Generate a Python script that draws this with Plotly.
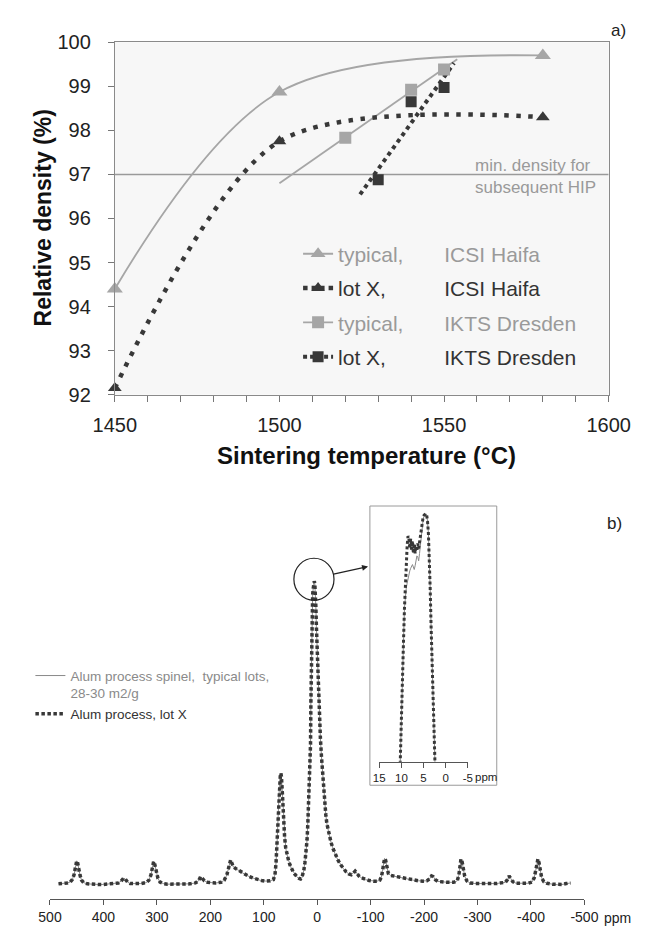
import numpy as np
import plotly.graph_objects as go

W, H = 654, 930
def px(x):
    return x / W
def py(y):
    return 1 - y / H

FONT = "Liberation Sans, Arial, sans-serif"
GRAY = "#a6a6a6"
DARK = "#383838"

# ---------------- panel a) data ----------------
temp_icsi = [1450, 1500, 1580]
icsi_typical = [94.4, 98.87, 99.7]
icsi_lotx = [92.15, 97.75, 98.3]
temp_ikts_typical = [1520, 1540, 1550]
ikts_typical = [97.83, 98.92, 99.38]
temp_ikts_lotx = [1530, 1540, 1550]
ikts_lotx = [96.88, 98.65, 98.97]
trend_span_typical = [1500, 1554]
trend_span_lotx = [1524.5, 1553]
hip_min_density = 97
temp_range = [1450, 1600]
temp_ticks = [1450, 1500, 1550, 1600]
density_ticks = [92, 93, 94, 95, 96, 97, 98, 99, 100]

# ---------------- panel b) data ----------------
spec_ppm = [484, 475, 468, 462, 458, 455, 452, 450, 448.5, 447, 444, 441, 437, 430, 420, 410, 400, 390, 380,
            372, 367, 362, 359, 355, 350, 340, 330, 320, 315, 311, 308, 306, 304, 301, 298, 294, 288, 280,
            265, 250, 238, 228, 222, 218, 215, 211, 205, 198, 190, 180, 174, 169, 165, 162, 160, 157, 152,
            146, 140, 134, 127, 120, 112, 104, 96, 88, 82, 79, 77, 75, 73.5, 72, 70.5, 69, 68, 67, 65.5, 64,
            62.5, 61, 59, 57, 54, 51, 48, 45, 42, 39, 36, 33, 31, 29, 27, 25, 23, 21, 19, 17.5, 16, 14.5,
            13.5, 12.5, 11.8, 11, 10.3, 9.5, 8.5, 7.5, 6.5, 5.5, 4.5, 3.5, 2.5, 1.5, 0, -2, -4, -6, -8, -10,
            -12, -14, -16, -18, -20, -23, -26, -30, -34, -39, -44, -49, -54, -59, -64, -68, -71, -74, -78,
            -83, -90, -97, -105, -112, -117, -120, -122, -124, -126, -128, -130, -133, -137, -142, -150,
            -160, -170, -180, -190, -198, -205, -210, -214, -217, -221, -226, -235, -245, -255, -262, -265,
            -267, -269, -271, -273, -276, -280, -286, -295, -305, -320, -335, -345, -352, -356, -359, -362,
            -366, -372, -382, -395, -402, -406, -409, -411, -413, -415, -417, -420, -424, -430, -440, -450,
            -458, -466, -474]
spec_int = [0.0, 0.1, 0.3, 0.6, 1.5, 3.0, 5.5, 7.6, 7.2, 5.5, 3.0, 1.2, 0.4, 0.0, -0.2, -0.2, -0.2, -0.1, 0.0,
            0.3, 0.9, 1.9, 1.6, 0.6, 0.1, 0.0, 0.1, 0.4, 1.2, 3.0, 6.0, 7.4, 6.5, 4.0, 1.8, 0.6, 0.1, -0.1,
            -0.1, -0.1, 0.0, 0.3, 1.0, 2.4, 1.9, 1.0, 0.5, 0.3, 0.3, 0.5, 1.2, 3.0, 6.0, 7.9, 7.0, 5.6, 5.0,
            4.3, 3.6, 3.0, 2.4, 1.9, 1.4, 1.1, 0.9, 1.0, 1.4, 3.0, 7.0, 14.0, 22.0, 29.0, 33.5, 36.0, 36.6,
            35.5, 31.0, 25.0, 19.5, 15.5, 12.0, 10.0, 8.0, 6.3, 5.0, 4.0, 3.2, 2.5, 2.0, 1.7, 1.6, 1.9, 2.8,
            4.5, 7.0, 10.0, 14.5, 20.0, 26.0, 34.0, 40.0, 46.0, 60.0, 72.0, 82.0, 90.0, 95.5, 97.5, 99.2,
            100.0, 99.3, 96.5, 91.5, 85.0, 76.0, 66.0, 56.0, 48.0, 42.0, 36.5, 31.0, 26.5, 23.0, 20.0, 18.0,
            15.8, 13.6, 11.5, 9.6, 7.8, 6.3, 5.0, 4.0, 3.3, 3.0, 3.6, 4.2, 3.6, 2.6, 2.0, 1.4, 1.1, 0.9, 0.9,
            1.2, 2.2, 4.0, 6.5, 8.4, 7.8, 5.5, 3.5, 2.8, 2.6, 2.3, 1.9, 1.5, 1.2, 1.0, 0.9, 1.0, 1.6, 2.6,
            2.4, 1.4, 0.8, 0.6, 0.5, 0.5, 1.0, 2.8, 5.5, 8.2, 7.4, 5.0, 2.5, 1.0, 0.3, 0.1, 0.0, 0.1, 0.1,
            0.2, 0.5, 1.4, 2.6, 1.8, 0.7, 0.2, 0.1, 0.2, 0.6, 2.0, 4.5, 7.0, 8.2, 7.0, 4.6, 2.0, 0.7, 0.2,
            -0.1, -0.3, -0.2, 0.1, 0.3]
spec_ticks = [500, 400, 300, 200, 100, 0, -100, -200, -300, -400, -500]

inset_ppm = [10.3, 10.1, 9.9, 9.7, 9.5, 9.3, 9.1, 8.9, 8.7, 8.5, 8.3, 8.1, 7.9, 7.7, 7.5, 7.3, 7.1, 6.9, 6.7,
             6.5, 6.3, 6.1, 5.9, 5.7, 5.5, 5.3, 5.1, 4.9, 4.7, 4.5, 4.3, 4.1, 3.9, 3.7, 3.5, 3.3, 3.1, 2.9,
             2.7, 2.5, 2.3]
inset_typical = [-3, 8, 22, 36, 50, 62, 67, 70, 72, 74, 76, 77, 78, 79, 79.5, 78.5, 77.5, 79, 81.5,
                 83, 82.5, 81, 84, 88, 92, 95, 97.5, 99, 99.8, 100, 99.5, 97, 92, 83, 70, 55, 40, 26,
                 13, 1, -8]
inset_lotx = [-3, 8, 22, 36, 50, 62, 72, 80, 87, 91, 90, 86, 90, 85, 89, 84, 88, 84, 87,
              85, 88, 86, 89, 92, 95, 97, 98.5, 99.3, 99.8, 100, 99.5, 97, 92, 83, 70, 55, 40, 26,
              13, 1, -8]
inset_ticks = [15, 10, 5, 0, -5]

fig = go.Figure()

# ---------- panel a traces ----------
fig.add_trace(go.Scatter(x=temp_range, y=[hip_min_density, hip_min_density], mode="lines",
                         line=dict(color="#9a9a9a", width=1.5), showlegend=False, hoverinfo="skip"))

fit_t = np.polyfit(temp_ikts_typical, ikts_typical, 1)
fig.add_trace(go.Scatter(x=trend_span_typical, y=list(np.polyval(fit_t, trend_span_typical)), mode="lines",
                         line=dict(color=GRAY, width=1.8), showlegend=False))
fit_l = np.polyfit(temp_ikts_lotx, ikts_lotx, 1)
fig.add_trace(go.Scatter(x=trend_span_lotx, y=list(np.polyval(fit_l, trend_span_lotx)), mode="lines",
                         line=dict(color=DARK, width=4, dash="4px,4px"), showlegend=False))

fig.add_trace(go.Scatter(x=temp_icsi, y=icsi_typical, mode="lines+markers", cliponaxis=False,
                         line=dict(color=GRAY, width=1.8, shape="spline", smoothing=1.0),
                         marker=dict(symbol="triangle-up", size=14, color=GRAY), showlegend=False))
fig.add_trace(go.Scatter(x=temp_icsi, y=icsi_lotx, mode="lines+markers", cliponaxis=False,
                         line=dict(color=DARK, width=4.5, shape="spline", smoothing=0.85, dash="4.5px,7.5px"),
                         marker=dict(symbol="triangle-up", size=12, color=DARK), showlegend=False))
fig.add_trace(go.Scatter(x=temp_ikts_typical, y=ikts_typical, mode="markers",
                         marker=dict(symbol="square", size=12, color=GRAY), showlegend=False))
fig.add_trace(go.Scatter(x=temp_ikts_lotx, y=ikts_lotx, mode="markers",
                         marker=dict(symbol="square", size=11, color=DARK), showlegend=False))

NB = "\u00a0"
legend_a = [
    ("typical," + NB * 7, "ICSI Haifa", "#9a9a9a", GRAY, 1.8, None, "triangle-up", 13),
    ("lot X," + NB * 10, "ICSI Haifa", "#333333", DARK, 4.5, "4.5px,4px", "triangle-up", 12),
    ("typical," + NB * 7, "IKTS Dresden", "#9a9a9a", GRAY, 1.8, None, "square", 12),
    ("lot X," + NB * 10, "IKTS Dresden", "#333333", DARK, 4, "4px,3px", "square", 11),
]
for i, (a, b, tc, lc, lw, dash, sym, ms) in enumerate(legend_a):
    fig.add_trace(go.Scatter(x=[None], y=[None], mode="lines+markers",
                             name=f'<span style="color:{tc}">{a}{b}</span>',
                             line=dict(color=lc, width=lw, dash=dash),
                             marker=dict(symbol=sym, size=ms, color=lc),
                             legendgroup=f"g{i}", legendrank=i + 1, legend="legend"))

# ---------- panel b traces ----------
fig.add_trace(go.Scatter(x=spec_ppm, y=spec_int, mode="lines", xaxis="x2", yaxis="y2",
                         line=dict(color="#8a8a8a", width=1),
                         name='<span style="color:#8a8a8a">Alum process spinel,' + NB + NB +
                              'typical lots,<br>28-30 m2/g</span>',
                         legend="legend2"))
fig.add_trace(go.Scatter(x=spec_ppm, y=spec_int, mode="lines", xaxis="x2", yaxis="y2",
                         line=dict(color=DARK, width=3.5, dash="3.5px,2.5px"),
                         name='<span style="color:#333">Alum process, lot X</span>',
                         legend="legend2"))

fig.add_trace(go.Scatter(x=inset_ppm, y=inset_typical, mode="lines", xaxis="x3", yaxis="y3",
                         line=dict(color="#8a8a8a", width=1), showlegend=False))
fig.add_trace(go.Scatter(x=inset_ppm, y=inset_lotx, mode="lines", xaxis="x3", yaxis="y3",
                         line=dict(color=DARK, width=3, dash="3px,2.5px"), showlegend=False))

axis_font = dict(family=FONT, size=20, color="#222")
fig.update_layout(
    width=W, height=H, autosize=False,
    margin=dict(l=0, r=0, t=0, b=0),
    paper_bgcolor="white", plot_bgcolor="rgba(0,0,0,0)",
    font=dict(family=FONT, color="#222"),
    showlegend=True,
    xaxis=dict(domain=[px(99.5), px(629)], range=temp_range, tickvals=temp_ticks, ticks="outside",
               ticklen=6, tickcolor="#777", showline=True, linecolor="#8a8a8a", linewidth=1, mirror=True,
               showgrid=False, zeroline=False, tickfont=axis_font, anchor="y", ticklabelstandoff=6,
               minor=dict(dtick=10, ticks="outside", ticklen=6, tickcolor="#777", showgrid=False)),
    yaxis=dict(domain=[py(393), py(32)], range=[92, 100], tickvals=density_ticks, ticks="outside",
               ticklen=6, tickcolor="#777", showline=True, linecolor="#8a8a8a", linewidth=1, mirror=True,
               showgrid=False, zeroline=False, tickfont=axis_font, anchor="x", ticklabelstandoff=13),
    xaxis2=dict(domain=[px(30), px(603)], range=[500, -500], tickvals=spec_ticks,
                ticktext=[str(v) for v in spec_ticks], ticks="outside",
                ticklen=5, tickcolor="#555", showline=True, linecolor="#555", linewidth=1,
                showgrid=False, zeroline=False, tickfont=dict(family=FONT, size=14, color="#222"),
                anchor="y2"),
    yaxis2=dict(domain=[py(910), py(560)], range=[-5.16, 107.74], visible=False, anchor="x2"),
    xaxis3=dict(domain=[px(383), px(478)], range=[15, -5], tickvals=inset_ticks,
                ticktext=[str(v) for v in inset_ticks], ticks="outside",
                ticklen=5, tickcolor="#555", showline=True, linecolor="#555", linewidth=1,
                showgrid=False, zeroline=False, tickfont=dict(family=FONT, size=11.5, color="#222"),
                anchor="y3"),
    yaxis3=dict(domain=[py(769), py(507)], range=[0, 103.1], visible=False, anchor="x3"),
    legend=dict(x=px(296), y=py(228), xanchor="left", yanchor="top", bgcolor="rgba(0,0,0,0)",
                font=dict(family=FONT, size=21), traceorder="grouped", tracegroupgap=4, itemwidth=30),
    legend2=dict(x=px(9), y=py(665), xanchor="left", yanchor="top", bgcolor="rgba(0,0,0,0)",
                 font=dict(family=FONT, size=13.5), valign="top", itemwidth=30, tracegroupgap=2),
)

fig.add_shape(type="rect", xref="x domain", yref="y domain", x0=0, x1=1, y0=0, y1=1,
              fillcolor="#f7f7f7", line=dict(width=0), layer="below")
fig.add_shape(type="rect", xref="paper", yref="paper", x0=px(373), x1=px(509), y0=py(793), y1=py(507),
              line=dict(color="#9a9a9a", width=1), fillcolor="rgba(0,0,0,0)")
fig.add_shape(type="circle", xref="paper", yref="paper", x0=px(291.5), x1=px(334.5), y0=py(603.5),
              y1=py(560.5), line=dict(color="#222", width=1.2))

ann = [
    dict(text="Relative density (%)", x=px(23), y=py(212), textangle=-90,
         font=dict(family=FONT, size=23, color="#111", weight="bold")),
    dict(text="Sintering temperature (°C)", x=px(369), y=py(455),
         font=dict(family=FONT, size=24, color="#111", weight="bold")),
    dict(text="a)", x=px(640), y=py(20), font=dict(family=FONT, size=17, color="#222")),
    dict(text="b)", x=px(635), y=py(525), font=dict(family=FONT, size=17, color="#222")),
    dict(text="min. density for<br>subsequent HIP", x=px(484), y=py(169), xanchor="left",
         align="left", font=dict(family=FONT, size=17, color="#9a9a9a")),
    dict(text="ppm", x=px(638), y=py(929), font=dict(family=FONT, size=14, color="#222")),
    dict(text="ppm", x=px(498), y=py(785), font=dict(family=FONT, size=11.5, color="#222")),
]
for a in ann:
    a.setdefault("xref", "paper")
    a.setdefault("yref", "paper")
    a.setdefault("showarrow", False)
    a.setdefault("xanchor", "center")
    a.setdefault("yanchor", "middle")
    fig.add_annotation(**a)

fig.add_annotation(x=px(371), y=py(569), xref="paper", yref="paper", ax=-36, ay=8, text="",
                   showarrow=True, arrowhead=2, arrowsize=1, arrowwidth=1.2, arrowcolor="#222")

fig.write_html("out.html")
